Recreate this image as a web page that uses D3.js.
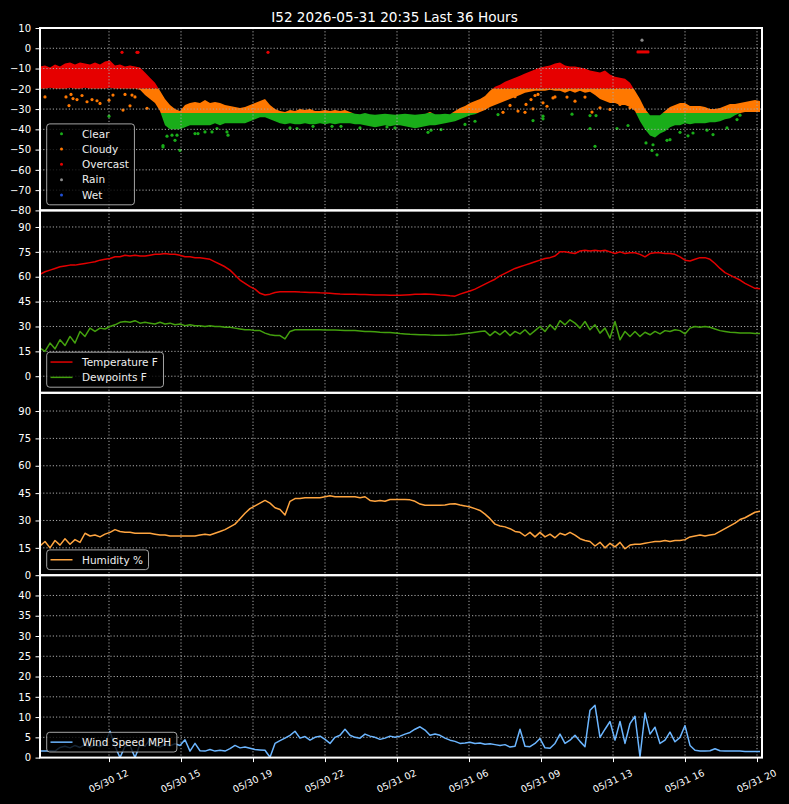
<!DOCTYPE html>
<html>
<head>
<meta charset="utf-8">
<title>I52 Last 36 Hours</title>
<script src="https://d3js.org/d3.v7.min.js"></script>
<style>
  body { margin: 0; background: #000; }
  svg { display: block; font-family: "DejaVu Sans", sans-serif; }
</style>
</head>
<body>
<div id="chart"></div>
<script>
// readings every 15 minutes, first one at 05/30 08:33
var titleText = "I52 2026-05-31 20:35 Last 36 Hours";
var startTime = new Date(2026, 4, 30, 8, 33);
var endTime = new Date(2026, 4, 31, 20, 39);
var stepMinutes = 15;

var tickTimes = ["2026-05-30 12:00", "2026-05-30 15:36", "2026-05-30 19:12", "2026-05-30 22:48",
  "2026-05-31 02:24", "2026-05-31 06:00", "2026-05-31 09:36", "2026-05-31 13:12",
  "2026-05-31 16:48", "2026-05-31 20:24"];

var temperature = [61.5, 63, 64, 65, 66, 66.5, 67, 67, 67.5, 68,
  68.5, 69, 70, 70.5, 71, 72, 72, 73, 72.5, 73,
  72.5, 72.5, 73, 73.5, 73.5, 74, 73.5, 73.5, 73, 72,
  72, 71.5, 71.5, 71, 70.5, 69, 67.5, 66, 64, 61,
  58, 56, 54, 52.5, 50, 49, 49.5, 50.5, 51, 51,
  51, 51, 50.8, 50.7, 50.5, 50.5, 50.3, 50.2, 50, 49.8,
  49.6, 49.5, 49.5, 49.4, 49.3, 49.3, 49.2, 49, 49, 49,
  48.9, 48.8, 48.8, 49, 49.2, 49.4, 49.5, 49.6, 49.5, 49.3,
  49, 48.8, 48.5, 48.3, 49.5, 50.5, 51.4, 52.5, 54, 55.5,
  57, 58.5, 60.5, 62, 63.5, 65, 66, 67, 68, 69,
  70, 71, 71.5, 72.5, 75, 75, 74.5, 74, 75.5, 76,
  75.5, 76, 75.5, 76, 75, 74, 75, 74, 74.5, 74.5,
  73.5, 72, 74, 74.5, 74.5, 74, 74, 73.5, 72, 70,
  69.5, 70.5, 71.5, 71.5, 70.5, 68, 65, 62.5, 61, 59.5,
  58, 56, 54.5, 53, 52.8];

var dewpoint = [17, 15, 20, 16.5, 22, 18.5, 24, 20, 27, 24,
  29, 27, 29, 28.5, 30, 31, 32.5, 33, 32.5, 33.5,
  32, 32.5, 32, 31.5, 32.5, 31.5, 32, 31, 31.5, 30.5,
  31, 30.5, 30.5, 30, 30.5, 30, 30, 29.5, 29.5, 29,
  28.5, 28, 28, 27.5, 27.5, 26, 25, 24.5, 24.5, 22.5,
  27, 28, 28, 28, 28, 28, 28, 27.8, 27.8, 27.8,
  27.7, 27.6, 27.5, 27.5, 27.3, 27, 27, 26.8, 26.5, 26.3,
  26.3, 26, 25.7, 25.5, 25.3, 25.2, 25, 25, 24.8, 24.7,
  24.7, 24.7, 24.8, 25, 25.3, 25.7, 26, 26.5, 27, 27.3,
  24.5, 27, 25, 27.5, 24.5, 27, 25.5, 28, 25, 27.5,
  30, 27, 31, 28, 33.5, 31, 34, 32, 29, 33,
  28, 31, 26, 29, 23, 33, 22, 27, 24, 27,
  24, 26.5, 25, 27, 25.5, 27.5, 27, 28, 27.5, 25.5,
  29, 30, 29.5, 30, 29.5, 28.5, 27.5, 27, 26.5, 26.3,
  26, 26, 26, 25.8, 25.8];

var humidity = [16, 18.5, 15, 19, 16.5, 20, 17, 19.5, 18, 23,
  21.5, 22, 21, 22.5, 23.5, 25, 24, 23.5, 23.5, 23,
  23, 23, 23, 22.5, 22, 22, 21.5, 21.5, 21.5, 21.5,
  21.5, 21.5, 22, 22.5, 22, 23, 24, 25, 26.5, 28,
  31, 34, 36.5, 38, 39.5, 41, 39.5, 37, 36, 33,
  40.5, 42, 42, 42.5, 42.5, 42.5, 42.5, 43, 43.5, 43,
  43, 43, 43, 43, 42.5, 43, 41, 40.5, 41, 40.5,
  41.5, 41.5, 41.5, 41.5, 41.3, 40.5, 39, 38.3, 38.3, 38.3,
  38.3, 38.5, 39, 39.2, 38.5, 38, 37.4, 36.5, 35.5, 33.5,
  31, 28, 27, 26.5, 25.5, 24, 23.5, 21.5, 23.5, 21,
  23.5, 21, 22.5, 20.5, 23, 22, 23.5, 22, 20, 19,
  18.5, 16, 18, 15, 17.5, 15.5, 18, 14.5, 16.5, 17,
  17, 17.5, 18, 18.5, 18.5, 19, 18.5, 19, 19, 19.5,
  21, 21.5, 22, 21.5, 22, 22.5, 24, 25.5, 27, 28.5,
  30.5, 31.5, 33, 34.5, 35];

var windSpeed = [1.6, 1.6, 1.7, 1.6, 2.5, 2.8, 2.4, 3, 2.5, 3.2,
  2.6, 3.1, 2.7, 3.5, 6.5, 2.8, 0, 2.8, 3, 0,
  3.2, 2.8, 4.5, 3, 2.6, 3.3, 2.9, 3.4, 3, 4.4,
  1.6, 3.5, 1.7, 1.6, 2, 1.6, 1.8, 1.6, 2.2, 3,
  2.4, 2.6, 2.3, 2.0, 1.9, 1.8, 0.1, 3.5, 4.2, 4.8,
  5.5, 6.5, 4.8, 5.2, 4.3, 5, 5.3, 4.5, 3.5, 5,
  5.5, 7, 5.5, 5, 4.8, 5.8, 5.3, 5, 4.5, 4.8,
  5.3, 5, 5.3, 5.8, 6.2, 7, 7.6, 6.8, 5.5, 5.8,
  5.5, 4.8, 4.3, 4, 3.5, 3.6, 3.8, 3.5, 3.6, 3.3,
  3.4, 3.2, 3.0, 3.2, 2.6, 2.8, 7, 2.8, 2.7, 3.5,
  4.7, 2.4, 2.3, 3.5, 5.8, 3.5, 4.3, 5.5, 4, 2.7,
  11.7, 12.9, 5, 7, 8.9, 4.3, 8.9, 3.5, 8.4, 10.2,
  0.2, 11, 5.8, 7.5, 3.5, 4.3, 6.3, 3.9, 5, 7.9,
  3, 1.8, 1.6, 1.6, 1.7, 2.2, 1.7, 1.6, 1.6, 1.6,
  1.6, 1.5, 1.5, 1.5, 1.5];

// sky temperature: upper and lower edge of the dense cloud of readings
var skyHigh = [-9, -8.5, -9.5, -8, -9, -7.5, -7, -8, -7, -7.5,
  -8, -7, -8, -6.5, -6, -8.5, -8, -9, -8.5, -9,
  -9.5, -12, -14.5, -17, -21, -25, -28, -30, -31, -28,
  -27, -26.5, -27, -25.5, -27, -26.5, -27, -28, -28.5, -29,
  -29.5, -29, -28, -27, -26, -25, -28, -30, -31, -31.5,
  -30.5, -31, -30, -30.5, -30, -31, -31, -30.5, -31, -30.5,
  -31, -30.5, -31.5, -32.3, -32.5, -32, -32.5, -32.8, -32.5, -32.3,
  -32.5, -32.8, -32.5, -32.3, -32.5, -32.8, -32.5, -32.3, -31.5, -32.5,
  -32.5, -32.3, -32.5, -31, -29.5, -28.5, -27, -26, -25, -23.5,
  -21, -19, -18, -16.5, -15.5, -14.5, -13.5, -12.5, -11.5, -10.5,
  -9.5, -9, -8.5, -7.5, -7, -8.5, -9, -9, -9.5, -10,
  -11, -11.5, -12, -11, -13, -14, -14.5, -15, -17, -21,
  -25, -30, -33, -33, -33, -31, -29, -28, -27, -27,
  -28.5, -28.5, -28.5, -29, -30, -30, -29.5, -28.5, -27.5, -27.5,
  -27, -26.5, -26, -25.5, -26];

var skyLow = [-20, -20, -19.5, -20, -20, -20, -19.5, -20, -20, -19.5,
  -20, -20, -20, -20, -19.5, -20, -20, -20, -20, -20,
  -20.5, -23, -25, -27, -31, -38, -40, -40, -40, -39,
  -38, -38, -38, -38, -38, -37, -38, -37, -37, -37,
  -37, -37, -36, -35, -34, -34, -35, -36, -37, -37.5,
  -37, -37.5, -37.5, -37, -37.5, -37.5, -37, -37.5, -37, -37.5,
  -37, -37, -37, -37.5, -37.5, -38, -38.5, -39, -38.5, -38,
  -38.5, -38, -38, -38.5, -39, -39.5, -39, -38.5, -38, -38,
  -37.5, -37, -36.5, -36, -35, -34, -33, -32.5, -31.5, -30.5,
  -29, -28, -27, -26, -25, -24, -23, -22, -21.5, -21,
  -21, -21, -20.5, -21, -21, -22, -21, -22, -21, -22,
  -21.5, -23, -25, -26, -27, -27, -28, -28, -29, -31,
  -36, -40, -43, -44, -42, -41, -39, -38, -38, -37,
  -37.5, -37, -37, -37, -36.5, -36.5, -36, -35, -34.5, -33,
  -32, -31.5, -31.5, -31.5, -31.5];

// sky class limits: warmer than -20 is overcast, colder than -32 is clear
var overcastAbove = -20;
var clearBelow = -32;

// single readings outside the dense cloud: [hours after start, value]
var clearPoints = [[3.45, -33.5], [6.15, -48.7], [6.15, -48], [6.35, -43.4], [6.6, -42.9], [6.75, -45.4],
  [6.85, -42.9], [7.0, -50.4], [7.75, -42.1], [7.9, -42.1], [8.25, -41.3], [8.6, -41.3], [8.85, -39.6],
  [9.35, -41.3], [9.4, -42.9], [12.5, -39.3], [12.85, -39.6], [13.65, -38.5], [14.6, -38.5], [15.05, -38.5],
  [16.0, -39.3], [17.35, -38.8], [17.75, -39.3], [19.4, -41.5], [19.55, -40.4], [20.05, -40.1],
  [21.25, -37.6], [21.75, -36], [22.9, -32.7], [24.65, -35.7], [25.15, -33.5], [25.15, -34.8], [26.6, -32.5],
  [27.5, -33.2], [27.8, -33.2], [27.5, -39.6], [27.75, -48.4], [28.85, -39.6], [29.4, -38.1], [30.3, -46.7],
  [30.6, -50.4], [30.85, -52.6], [30.65, -47.6], [31.35, -45.4], [31.5, -45.1], [32.0, -41.5], [32.4, -43.2],
  [32.65, -41.8], [33.35, -40.4], [33.65, -42.6], [34.35, -39.3], [34.85, -35.2], [35.0, -33]];
var cloudyPoints = [[0.25, -24], [1.3, -24], [1.45, -28.3], [1.55, -22.8], [1.65, -24.8], [1.85, -25.3],
  [2.1, -23.3], [2.35, -26.4], [2.6, -25.3], [2.85, -25.9], [3.0, -27.2], [3.45, -25.6], [3.65, -23.1],
  [4.15, -30.5], [4.25, -22.8], [4.5, -28.4], [4.6, -23.1], [4.75, -24], [5.35, -29.6],
  [23.15, -31.6], [23.5, -28.2], [23.75, -23.9], [23.9, -31], [24.25, -31.6], [24.3, -27.7], [24.55, -25.3],
  [24.65, -29.9], [24.75, -23.3], [24.9, -22.8], [25.15, -26.9], [25.35, -28.6], [25.65, -24.5], [25.75, -24],
  [26.35, -24.1], [26.75, -26.1], [27.25, -24.1], [27.6, -31.5], [28.0, -29.4], [28.5, -30.2], [29.0, -27.7],
  [29.5, -29.4]];
var overcastPoints = [[4.1, -2], [4.85, -2], [4.9, -2], [11.4, -2], [29.9, -1.8], [30.0, -1.8],
  [30.1, -1.8], [30.2, -1.8], [30.3, -1.8], [30.4, -1.8]];
var rainPoints = [[30.1, 4]];
var wetPoints = [];

var skyClasses = ["Clear", "Cloudy", "Overcast", "Rain", "Wet"];
var skyColors = { Clear: "#19ad19", Cloudy: "#ff7800", Overcast: "#e60000", Rain: "#8c8c8c", Wet: "#1f4fd6" };
var skyPoints = { Clear: clearPoints, Cloudy: cloudyPoints, Overcast: overcastPoints, Rain: rainPoints, Wet: wetPoints };

// layout
var width = 789, height = 804;
var left = 40, right = 762, top0 = 28, panelH = 182.4;

var svg = d3.select("#chart").append("svg")
  .attr("width", width)
  .attr("height", height)
  .style("background", "#000");

svg.append("rect").attr("width", width).attr("height", height).attr("fill", "#000");

var parseTick = d3.timeParse("%Y-%m-%d %H:%M");
var tickDates = tickTimes.map(parseTick);
var sampleTimes = temperature.map(function(d, i) { return d3.timeMinute.offset(startTime, i * stepMinutes); });
function atHours(h) { return new Date(startTime.getTime() + h * 3600000); }

var x = d3.scaleTime().domain([startTime, endTime]).range([left, right]);

svg.append("text")
  .attr("x", width / 2)
  .attr("y", 21.5)
  .attr("text-anchor", "middle")
  .attr("fill", "#fff")
  .style("font-size", "13.6px")
  .text(titleText);

function makePanel(k, domain, ticks) {
  var y0 = top0 + k * panelH;
  var y = d3.scaleLinear().domain(domain).range([y0 + panelH, y0]);
  svg.append("clipPath").attr("id", "clip" + k)
    .append("rect").attr("x", left).attr("y", y0).attr("width", right - left).attr("height", panelH);
  return { y: y, y0: y0, ticks: ticks, clip: "url(#clip" + k + ")" };
}

function drawGrid(p) {
  var g = svg.append("g").attr("clip-path", p.clip);
  g.selectAll(".h").data(p.ticks).enter().append("line")
    .attr("x1", left).attr("x2", right)
    .attr("y1", function(d) { return p.y(d); })
    .attr("y2", function(d) { return p.y(d); });
  g.selectAll(".v").data(tickDates).enter().append("line")
    .attr("x1", function(d) { return x(d); })
    .attr("x2", function(d) { return x(d); })
    .attr("y1", p.y0).attr("y2", p.y0 + panelH);
  g.selectAll("line")
    .attr("stroke", "#a8a8a8")
    .attr("stroke-width", 1)
    .attr("stroke-dasharray", "1.2,2");
}

function drawYAxis(p) {
  var ax = svg.append("g")
    .attr("transform", "translate(" + left + ",0)")
    .call(d3.axisLeft(p.y).tickValues(p.ticks).tickSize(4.5).tickPadding(4.5));
  ax.select(".domain").remove();
  ax.selectAll("line").attr("stroke", "#fff");
  ax.selectAll("text").attr("fill", "#fff").style("font-size", "10px").style("font-family", "DejaVu Sans");
}

function drawLine(p, values, color) {
  var line = d3.line()
    .x(function(d, i) { return x(sampleTimes[i]); })
    .y(function(d) { return p.y(d); });
  svg.append("path")
    .datum(values)
    .attr("clip-path", p.clip)
    .attr("d", line)
    .attr("fill", "none")
    .attr("stroke", color)
    .attr("stroke-width", 1.5)
    .attr("stroke-linejoin", "round");
}

function drawLegend(p, items) {
  var rowH = 15.3;
  var boxH = items.length * rowH + 4.4;
  var boxTop = p.y0 + panelH - 5.6 - boxH;
  var lg = svg.append("g");
  var box = lg.append("rect")
    .attr("x", 46.7).attr("y", boxTop).attr("height", boxH).attr("rx", 3)
    .attr("fill", "#000").attr("fill-opacity", 0.8)
    .attr("stroke", "#cccccc").attr("stroke-opacity", 0.8).attr("stroke-width", 1);
  var maxW = 0;
  items.forEach(function(it, i) {
    var cy = boxTop + 2.2 + rowH / 2 + i * rowH;
    if (it.kind === "line") {
      lg.append("line").attr("x1", 50.5).attr("x2", 72.5).attr("y1", cy).attr("y2", cy)
        .attr("stroke", it.color).attr("stroke-width", 1.5);
    } else {
      lg.append("circle").attr("cx", 61.5).attr("cy", cy).attr("r", 1.5).attr("fill", it.color);
    }
    var t = lg.append("text").attr("x", 82).attr("y", cy).attr("dy", "0.36em")
      .attr("fill", "#eeeeee").style("font-size", "10.5px").text(it.label);
    maxW = Math.max(maxW, t.node().getComputedTextLength());
  });
  box.attr("width", 82 + maxW + 5.6 - 46.7);
}

function drawSpine(p) {
  svg.append("rect")
    .attr("x", left).attr("y", p.y0).attr("width", right - left).attr("height", panelH)
    .attr("fill", "none").attr("stroke", "#fff").attr("stroke-width", 2);
}

var p1 = makePanel(0, [-80, 10], d3.range(-80, 11, 10));
var p2 = makePanel(1, [-10, 100], d3.range(0, 91, 15));
var p3 = makePanel(2, [0, 100], d3.range(0, 91, 15));
var p4 = makePanel(3, [0, 45], d3.range(0, 41, 5));

// panel 1: sky temperature cloud, coloured by class band
var skyArea = d3.area()
  .x(function(d, i) { return x(sampleTimes[i]); })
  .y0(function(d, i) { return p1.y(skyLow[i]); })
  .y1(function(d, i) { return p1.y(skyHigh[i]); });
var bands = [
  { name: "Overcast", hi: 10, lo: overcastAbove },
  { name: "Cloudy", hi: overcastAbove, lo: clearBelow },
  { name: "Clear", hi: clearBelow, lo: -80 }
];
bands.forEach(function(b, i) {
  svg.append("clipPath").attr("id", "band" + i)
    .append("rect").attr("x", left).attr("width", right - left)
    .attr("y", p1.y(b.hi)).attr("height", p1.y(b.lo) - p1.y(b.hi));
  svg.append("path")
    .datum(skyHigh)
    .attr("clip-path", "url(#band" + i + ")")
    .attr("d", skyArea)
    .attr("fill", skyColors[b.name]);
});
skyClasses.forEach(function(name) {
  svg.append("g").attr("clip-path", p1.clip)
    .selectAll("circle").data(skyPoints[name]).enter().append("circle")
    .attr("cx", function(d) { return x(atHours(d[0])); })
    .attr("cy", function(d) { return p1.y(d[1]); })
    .attr("r", 1.6)
    .attr("fill", skyColors[name]);
});
drawGrid(p1);
drawYAxis(p1);
drawLegend(p1, skyClasses.map(function(n) { return { label: n, color: skyColors[n], kind: "dot" }; }));

// panel 2: temperature and dewpoint
drawGrid(p2);
drawLine(p2, temperature, "#e30000");
drawLine(p2, dewpoint, "#43a00e");
drawYAxis(p2);
drawLegend(p2, [
  { label: "Temperature F", color: "#e30000", kind: "line" },
  { label: "Dewpoints F", color: "#43a00e", kind: "line" }
]);

// panel 3: humidity
drawGrid(p3);
drawLine(p3, humidity, "#ffa540");
drawYAxis(p3);
drawLegend(p3, [{ label: "Humidity %", color: "#ffa540", kind: "line" }]);

// panel 4: wind
drawGrid(p4);
drawLine(p4, windSpeed, "#6cb6ff");
drawYAxis(p4);
drawLegend(p4, [{ label: "Wind Speed MPH", color: "#6cb6ff", kind: "line" }]);

[p1, p2, p3, p4].forEach(drawSpine);

// shared time axis under the last panel
var xAxis = svg.append("g")
  .attr("transform", "translate(0," + (p4.y0 + panelH) + ")")
  .call(d3.axisBottom(x).tickValues(tickDates).tickFormat(d3.timeFormat("%m/%d %H")).tickSize(4.5));
xAxis.select(".domain").remove();
xAxis.selectAll("line").attr("stroke", "#fff");
xAxis.selectAll("text")
  .attr("y", 0)
  .attr("dy", "0.35em")
  .attr("fill", "#fff")
  .attr("text-anchor", "middle")
  .attr("transform", "translate(-1,23.5) rotate(-25)")
  .style("font-size", "9.5px")
  .style("font-family", "DejaVu Sans");
</script>
</body>
</html>
